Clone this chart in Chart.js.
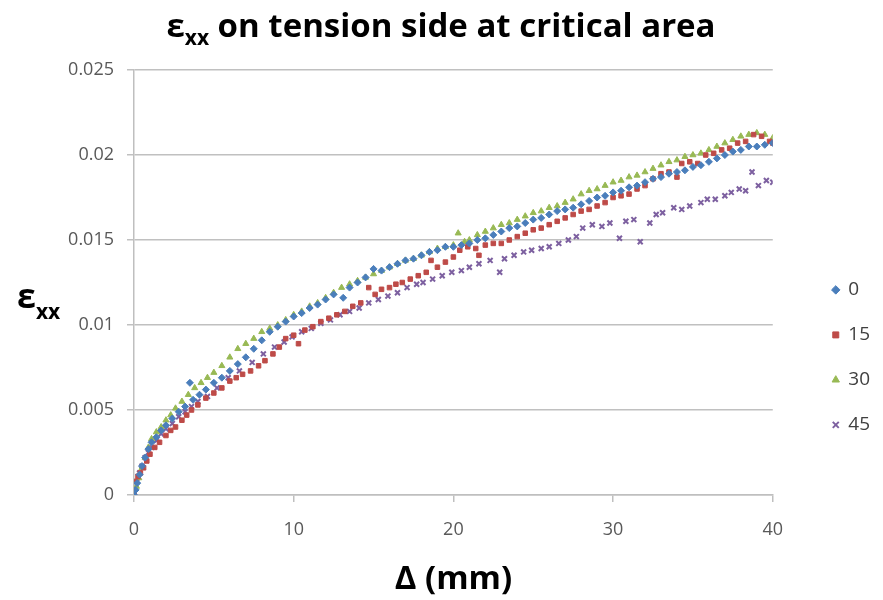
<!DOCTYPE html>
<html>
<head>
<meta charset="utf-8">
<script src="https://cdn.jsdelivr.net/npm/chart.js@4.4.1/dist/chart.umd.min.js"></script>
<style>
  body { margin: 0; background: #fff; }
  #caixa { width: 883px; height: 600px; }
</style>
</head>
<body>
<div id="caixa"><canvas id="grafico"></canvas></div>
<script>
// deslocamento (mm) e deformacao, um par de listas por angulo
let x0 = [0, 0.1, 0.2, 0.35, 0.5, 0.7, 0.9, 1.1, 1.4, 1.7, 2.0, 2.4, 2.8, 3.2, 3.5, 3.7, 4.1, 4.5, 5.0, 5.5,
  6.0, 6.5, 7.0, 7.5, 8.0, 8.5, 9.0, 9.5, 10, 10.5, 11, 11.5, 12, 12.5, 13.1, 13.5, 14, 14.5, 15, 15.5,
  16, 16.5, 17, 17.5, 18, 18.5, 19, 19.5, 20, 20.5, 21, 21.5, 22, 22.5, 23, 23.5, 24, 24.5, 25, 25.5,
  26, 26.5, 27, 27.5, 28, 28.5, 29, 29.5, 30, 30.5, 31, 31.5, 32, 32.5, 33, 33.5, 34, 34.5, 35, 35.5,
  36, 36.5, 37, 37.5, 38, 38.5, 39, 39.5, 40];
let y0 = [0, 0.0003, 0.0007, 0.0012, 0.0017, 0.0022, 0.0027, 0.0031, 0.0034, 0.0038, 0.0041, 0.0045, 0.0049, 0.0052, 0.0066, 0.0056, 0.0059, 0.0062, 0.0066, 0.0069,
  0.0073, 0.0077, 0.0081, 0.0086, 0.0091, 0.0096, 0.0099, 0.0102, 0.0105, 0.0107, 0.011, 0.0112, 0.0115, 0.0118, 0.0116, 0.0122, 0.0125, 0.0128, 0.0133, 0.0132,
  0.0134, 0.0136, 0.0138, 0.0139, 0.0141, 0.0143, 0.0144, 0.0146, 0.0146, 0.0147, 0.0148, 0.015, 0.0151, 0.0153, 0.0155, 0.0157, 0.0158, 0.016, 0.0162, 0.0163,
  0.0165, 0.0167, 0.0168, 0.0169, 0.0171, 0.0173, 0.0175, 0.0176, 0.0178, 0.0179, 0.0181, 0.0182, 0.0184, 0.0186, 0.0187, 0.0189, 0.019, 0.0191, 0.0193, 0.0194,
  0.0196, 0.0198, 0.02, 0.0202, 0.0203, 0.0205, 0.0205, 0.0206, 0.0207];

let x15 = [0, 0.1, 0.25, 0.4, 0.6, 0.8, 1.0, 1.3, 1.6, 2.0, 2.3, 2.6, 3.0, 3.3, 3.6, 4.0, 4.5, 5.0, 5.5, 6.0,
  6.4, 6.8, 7.3, 7.8, 8.2, 8.7, 9.1, 9.5, 10, 10.3, 10.7, 11.2, 11.7, 12.2, 12.7, 13.2, 13.7, 14.2, 14.7, 15.1,
  15.5, 16.0, 16.4, 16.8, 17.3, 17.8, 18.3, 18.6, 19.0, 19.5, 20.0, 20.4, 20.9, 21.4, 21.6, 22.0, 22.5, 23.0, 23.5, 24.0,
  24.5, 25.0, 25.5, 26.0, 26.5, 27.0, 27.5, 28.0, 28.5, 29.0, 29.5, 30.0, 30.5, 31.0, 31.5, 32.0, 32.5, 33.0, 33.5, 34.0,
  34.3, 34.8, 35.3, 35.8, 36.3, 36.8, 37.3, 37.8, 38.3, 38.8, 39.3, 39.8, 40];
let y15 = [0.0002, 0.0008, 0.0011, 0.0013, 0.0016, 0.002, 0.0024, 0.0028, 0.0031, 0.0035, 0.0038, 0.004, 0.0044, 0.0047, 0.005, 0.0053, 0.0057, 0.006, 0.0063, 0.0067,
  0.0069, 0.0071, 0.0073, 0.0076, 0.0079, 0.0083, 0.0087, 0.0092, 0.0094, 0.0089, 0.0097, 0.0099, 0.0102, 0.0104, 0.0106, 0.0108, 0.0111, 0.0113, 0.0122, 0.0118,
  0.0121, 0.0122, 0.0124, 0.0125, 0.0127, 0.0129, 0.0131, 0.0138, 0.0134, 0.0137, 0.014, 0.0144, 0.0146, 0.0145, 0.0141, 0.0147, 0.0148, 0.0148, 0.015, 0.0152,
  0.0154, 0.0156, 0.0157, 0.0159, 0.0161, 0.0163, 0.0165, 0.0167, 0.0168, 0.017, 0.0172, 0.0175, 0.0176, 0.0177, 0.018, 0.0182, 0.0186, 0.0189, 0.019, 0.0187,
  0.0195, 0.0196, 0.0195, 0.02, 0.0201, 0.0203, 0.0204, 0.0207, 0.0208, 0.0212, 0.0211, 0.0208, 0.0207];

let x30 = [0, 0.15, 0.3, 0.5, 0.7, 0.9, 1.1, 1.4, 1.7, 2.0, 2.3, 2.6, 3.0, 3.4, 3.8, 4.2, 4.6, 5.0, 5.5, 6.0,
  6.5, 7.0, 7.5, 8.0, 8.5, 9.0, 9.5, 10, 10.5, 11, 11.5, 12, 12.5, 13, 13.5, 14, 14.5, 15, 15.5, 16,
  16.5, 17, 17.5, 18, 18.5, 19, 19.5, 20, 20.3, 20.7, 21, 21.5, 22, 22.5, 23, 23.5, 24, 24.5, 25, 25.5,
  26, 26.5, 27, 27.5, 28, 28.5, 29, 29.5, 30, 30.5, 31, 31.5, 32, 32.5, 33, 33.5, 34, 34.5, 35, 35.5,
  36, 36.5, 37, 37.5, 38, 38.5, 39, 39.5, 40];
let y30 = [0, 0.0005, 0.001, 0.0016, 0.0022, 0.0028, 0.0033, 0.0037, 0.004, 0.0044, 0.0047, 0.0051, 0.0055, 0.0059, 0.0063, 0.0066, 0.0069, 0.0072, 0.0076, 0.0081,
  0.0086, 0.0089, 0.0092, 0.0096, 0.0098, 0.01, 0.0103, 0.0106, 0.0108, 0.0111, 0.0113, 0.0116, 0.0119, 0.0122, 0.0124, 0.0126, 0.0128, 0.013, 0.0132, 0.0134,
  0.0136, 0.0138, 0.0139, 0.0141, 0.0143, 0.0145, 0.0146, 0.0147, 0.0154, 0.0149, 0.015, 0.0153, 0.0155, 0.0157, 0.0159, 0.016, 0.0162, 0.0164, 0.0166, 0.0167,
  0.0169, 0.017, 0.0172, 0.0174, 0.0177, 0.0179, 0.018, 0.0182, 0.0184, 0.0185, 0.0187, 0.0188, 0.019, 0.0192, 0.0194, 0.0196, 0.0197, 0.0199, 0.02, 0.0201,
  0.0203, 0.0205, 0.0207, 0.0209, 0.0211, 0.0212, 0.0213, 0.0212, 0.021];

let x45 = [0, 0.1, 0.2, 0.35, 0.5, 0.7, 0.9, 1.1, 1.4, 1.7, 2.0, 2.4, 2.8, 3.2, 3.6, 4.0, 4.6, 5.2, 5.9, 6.6,
  7.4, 8.1, 8.8, 9.4, 9.9, 10.5, 11.1, 11.7, 12.3, 12.9, 13.5, 14.1, 14.7, 15.3, 15.9, 16.5, 17.1, 17.7, 18.1, 18.7,
  19.3, 19.9, 20.5, 21.0, 21.6, 22.3, 22.9, 23.2, 23.8, 24.4, 24.9, 25.5, 26.0, 26.6, 27.2, 27.7, 28.1, 28.7, 29.3, 29.8,
  30.4, 30.8, 31.3, 31.7, 32.3, 32.7, 33.1, 33.8, 34.3, 34.8, 35.5, 35.9, 36.4, 37.0, 37.4, 37.9, 38.3, 38.7, 39.1, 39.6, 40.0];
let y45 = [0, 0.0004, 0.0008, 0.0013, 0.0017, 0.0022, 0.0025, 0.0028, 0.0032, 0.0036, 0.0039, 0.0042, 0.0046, 0.0049, 0.0052, 0.0055, 0.0058, 0.0063, 0.0069, 0.0073,
  0.0078, 0.0083, 0.0087, 0.009, 0.0093, 0.0096, 0.0098, 0.0101, 0.0103, 0.0106, 0.0108, 0.011, 0.0113, 0.0115, 0.0117, 0.0119, 0.0122, 0.0124, 0.0125, 0.0127,
  0.0129, 0.0131, 0.0132, 0.0134, 0.0136, 0.0138, 0.0131, 0.0139, 0.0141, 0.0143, 0.0144, 0.0145, 0.0146, 0.0148, 0.015, 0.0152, 0.0157, 0.0159, 0.0158, 0.016,
  0.0151, 0.0161, 0.0162, 0.0149, 0.016, 0.0165, 0.0166, 0.0169, 0.0168, 0.017, 0.0172, 0.0174, 0.0174, 0.0176, 0.0178, 0.018, 0.0179, 0.019, 0.0182, 0.0185, 0.0184];

let angulos = ['0', '15', '30', '45'];
let ticksX = [0, 10, 20, 30, 40];
let ticksY = [0, 0.005, 0.01, 0.015, 0.02, 0.025];

const fonte = "'Open Sans', sans-serif";
const cinza = '#595959';

function pares(xs, ys) {
  return xs.map((v, i) => ({x: v, y: ys[i]}));
}

// titulo e rotulo do eixo y tem subscrito, por isso sao desenhados a mao
const textos = {
  id: 'textos',
  afterDraw(chart) {
    const ctx = chart.ctx;
    ctx.save();
    ctx.fillStyle = '#000';
    ctx.textBaseline = 'alphabetic';

    const resto = ' on tension side at critical area';
    ctx.font = 'bold 33px ' + fonte;
    const wE = ctx.measureText('ε').width;
    const wR = ctx.measureText(resto).width;
    ctx.font = 'bold 21px ' + fonte;
    const wS = ctx.measureText('xx').width;
    let x = 441 - (wE + wS + wR) / 2;
    ctx.font = 'bold 33px ' + fonte;
    ctx.fillText('ε', x, 37);
    ctx.font = 'bold 21px ' + fonte;
    ctx.fillText('xx', x + wE, 45);
    ctx.font = 'bold 33px ' + fonte;
    ctx.fillText(resto, x + wE + wS, 37);

    ctx.font = 'bold 34px ' + fonte;
    ctx.fillText('ε', 17, 308);
    const w2 = ctx.measureText('ε').width;
    ctx.font = 'bold 21px ' + fonte;
    ctx.fillText('xx', 17 + w2, 319);
    ctx.restore();
  }
};

var ctx = document.getElementById('grafico').getContext('2d');
var cores = ['#4a7ebb', '#be4b48', '#98b954', '#7d60a0'];
var formas = ['rectRot', 'rect', 'triangle', 'crossRot'];
var series = [pares(x0, y0), pares(x15, y15), pares(x30, y30), pares(x45, y45)];

var chart = new Chart(ctx, {
  type: 'scatter',
  data: {
    datasets: series.map((s, i) => ({
      label: angulos[i],
      data: s,
      pointStyle: formas[i],
      backgroundColor: cores[i],
      borderColor: cores[i],
      borderWidth: i == 3 ? 2 : 1,
      pointRadius: i == 1 ? 3.2 : 3.5
    }))
  },
  options: {
    responsive: true,
    maintainAspectRatio: false,
    animation: false,
    layout: { padding: { top: 70, right: 3, left: 0, bottom: 0 } },
    plugins: {
      tooltip: { enabled: false },
      legend: {
        position: 'right',
        align: 'start',
        title: { display: true, text: '', padding: { top: 170 } },
        labels: {
          usePointStyle: true,
          boxWidth: 6,
          boxHeight: 6,
          padding: 26,
          color: '#404040',
          font: { family: fonte, size: 19 }
        }
      }
    },
    scales: {
      x: {
        type: 'linear',
        min: 0,
        max: 40,
        afterFit: s => { s.height = 105; },
        afterBuildTicks: s => { s.ticks = ticksX.map(v => ({value: v})); },
        border: { color: '#bfbfbf', width: 1.5 },
        grid: { drawOnChartArea: false, drawTicks: true, tickLength: 7, color: '#bfbfbf', lineWidth: 1.5 },
        ticks: { color: cinza, padding: 17, font: { family: fonte, size: 18 } },
        title: { display: true, text: 'Δ (mm)', color: '#000', padding: { bottom: 1 }, font: { family: fonte, size: 33, weight: 'bold' } }
      },
      y: {
        min: 0,
        max: 0.025,
        afterFit: s => { s.width = 134; },
        afterBuildTicks: s => { s.ticks = ticksY.map(v => ({value: v})); },
        border: { color: '#bfbfbf', width: 1.5 },
        grid: { color: '#c0c0c0', lineWidth: 1.5, tickLength: 7 },
        ticks: { color: cinza, padding: 13, font: { family: fonte, size: 18 }, callback: v => String(+v.toFixed(3)) }
      },
      // eixo vazio so para abrir espaco entre a area do grafico e a legenda
      folga: {
        type: 'linear',
        position: 'right',
        afterFit: s => { s.width = 34; },
        border: { display: false },
        grid: { display: false },
        ticks: { display: false }
      }
    }
  },
  plugins: [textos]
});
</script>
</body>
</html>
